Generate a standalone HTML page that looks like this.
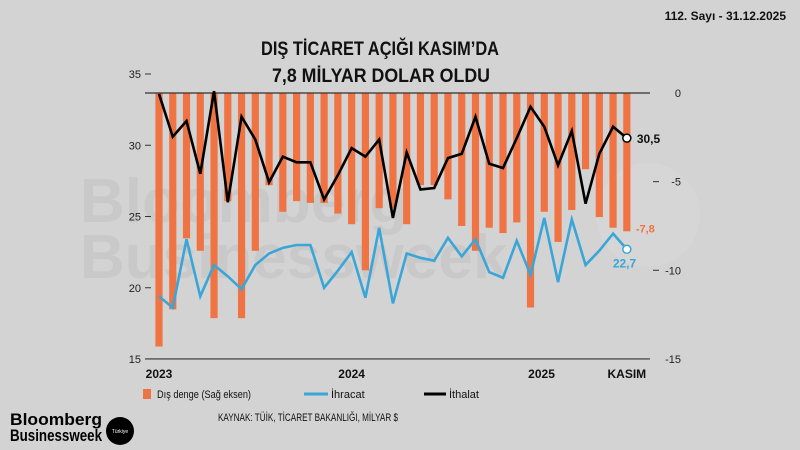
<!DOCTYPE html>
<html><head><meta charset="utf-8"><style>
body{margin:0;background:#d3d3d3;}
#wrap{position:relative;width:800px;height:450px;background:#d3d3d3;overflow:hidden;font-family:"Liberation Sans",sans-serif;}
svg text{font-family:"Liberation Sans",sans-serif;}
</style></head><body>
<div id="wrap">
<svg id="chart" width="800" height="450">
 <g opacity="0.045" fill="#000" font-weight="bold">
  <text x="80" y="222" font-size="62">Bloomberg</text>
  <text x="80" y="278" font-size="62">Businessweek</text>
 </g>
 <circle cx="648" cy="215" r="52" fill="#fff" opacity="0.08"/>
 <text x="786" y="20" font-size="12" font-weight="bold" text-anchor="end" fill="#111">112. Sayı - 31.12.2025</text>
 <text x="380" y="55" font-size="19" font-weight="bold" text-anchor="middle" fill="#111" textLength="238" lengthAdjust="spacingAndGlyphs">DIŞ TİCARET AÇIĞI KASIM’DA</text>
 <text x="381" y="82" font-size="19" font-weight="bold" text-anchor="middle" fill="#111" textLength="218" lengthAdjust="spacingAndGlyphs">7,8 MİLYAR DOLAR OLDU</text>
 <g id="plot"></g>
 <g font-size="11" fill="#111">
  <rect x="143" y="389" width="8" height="10" fill="#f07443"/>
  <text x="157" y="398" textLength="94" lengthAdjust="spacingAndGlyphs">Dış denge (Sağ eksen)</text>
  <line x1="304" y1="394" x2="328" y2="394" stroke="#3aa6d8" stroke-width="3"/>
  <text x="331" y="398">İhracat</text>
  <line x1="424" y1="394" x2="446" y2="394" stroke="#000" stroke-width="3"/>
  <text x="449" y="398">İthalat</text>
 </g>
 <text x="218" y="421" font-size="11" fill="#111" textLength="180" lengthAdjust="spacingAndGlyphs">KAYNAK: TÜİK, TİCARET BAKANLIĞI, MİLYAR $</text>
 <text x="10" y="425" font-size="17" font-weight="bold" fill="#000" textLength="92" lengthAdjust="spacingAndGlyphs">Bloomberg</text>
 <text x="10" y="441" font-size="17" font-weight="bold" fill="#000" textLength="92" lengthAdjust="spacingAndGlyphs">Businessweek</text>
 <circle cx="120" cy="431" r="14" fill="#000"/>
 <text x="120" y="433" font-size="5" fill="#fff" text-anchor="middle">Türkiye</text>
</svg>
</div>
<script>
const months = ["2023-01","2023-02","2023-03","2023-04","2023-05","2023-06","2023-07","2023-08","2023-09","2023-10","2023-11","2023-12","2024-01","2024-02","2024-03","2024-04","2024-05","2024-06","2024-07","2024-08","2024-09","2024-10","2024-11","2024-12","2025-01","2025-02","2025-03","2025-04","2025-05","2025-06","2025-07","2025-08","2025-09","2025-10","2025-11"];
const balance = [-14.3,-12.2,-8.2,-8.9,-12.7,-6.1,-12.7,-8.9,-5.2,-6.7,-6.1,-6.2,-6.2,-6.8,-7.4,-10.0,-6.5,-6.5,-7.4,-5.2,-5.2,-6.0,-7.5,-8.9,-7.6,-7.9,-7.3,-12.1,-6.7,-8.4,-6.6,-4.3,-7.0,-7.6,-7.8];
const imports = [33.6,30.6,31.7,28.0,33.8,26.0,32.0,30.4,27.4,29.2,28.8,28.8,26.2,27.9,29.8,29.2,30.4,24.9,29.5,26.9,27.0,29.1,29.4,32.0,28.7,28.4,30.5,32.7,31.3,28.6,31.0,25.9,29.4,31.3,30.5];
const exportsV = [19.4,18.6,23.4,19.4,21.6,20.8,19.9,21.6,22.4,22.8,23.0,23.0,20.0,21.2,22.5,19.3,24.2,18.9,22.4,22.1,21.9,23.5,22.2,23.4,21.1,20.7,23.3,20.9,24.9,20.4,24.8,21.6,22.6,23.8,22.7];
const leftTicks = [35,30,25,20,15];
const rightTicks = [0,-5,-10,-15];
const xLabels = [["2023",0],["2024",14],["2025",27.8],["KASIM",34]];

const NS="http://www.w3.org/2000/svg";
const plot=document.getElementById('plot');
const xS=i=>159+i*13.76;
const yL=v=>74+(35-v)*14.25;
const yR=v=>93+(-v)*17.73;
function mk(t,a){const e=document.createElementNS(NS,t);for(const k in a)e.setAttribute(k,a[k]);plot.appendChild(e);return e;}

leftTicks.forEach(v=>{
 const t=mk('text',{x:141,y:yL(v)+4,'font-size':11,'text-anchor':'end',fill:'#222'});t.textContent=v;
 
 
 const l=mk('line',{x1:145,x2:151,y1:yL(v),y2:yL(v),stroke:'#333','stroke-width':1});
 
 
});
rightTicks.forEach(v=>{
 const t=mk('text',{x:681,y:yR(v)+4,'font-size':11,'text-anchor':'end',fill:'#222'});t.textContent=v;
 
 
 if(v!==0&&v!==-15){const l=mk('line',{x1:653,x2:659,y1:yR(v),y2:yR(v),stroke:'#333','stroke-width':1});
 
 }
});
balance.forEach((v,i)=>{
 const r=mk('rect',{x:xS(i)-3.6,y:yR(0),width:7.2,height:yR(v)-yR(0),fill:'#f07443'});
 
 
});
const z=mk('line',{x1:145,x2:650,y1:yR(0),y2:yR(0),stroke:'#333','stroke-width':1.2});


const b=mk('line',{x1:145,x2:650,y1:yR(-15),y2:yR(-15),stroke:'#333','stroke-width':1.2});


xLabels.forEach(([s,i])=>{
 const t=mk('text',{x:xS(i),y:378,'font-size':12,'font-weight':'bold','text-anchor':'middle',fill:'#111'});t.textContent=s;
 
 
});
const pe=mk('polyline',{points:exportsV.map((v,i)=>xS(i)+','+yL(v)).join(' '),fill:'none',stroke:'#3aa6d8','stroke-width':2.6,'stroke-linejoin':'miter'});


const pi=mk('polyline',{points:imports.map((v,i)=>xS(i)+','+yL(v)).join(' '),fill:'none',stroke:'#000','stroke-width':2.6,'stroke-linejoin':'miter'});


const n=months.length-1;
const ci=mk('circle',{cx:xS(n),cy:yL(imports[n]),r:4,fill:'#fff',stroke:'#000','stroke-width':1.5});


const ce=mk('circle',{cx:xS(n),cy:yL(exportsV[n]),r:4,fill:'#fff',stroke:'#3aa6d8','stroke-width':1.5});


const fmt=v=>String(v).replace('.',',');
const li=mk('text',{x:xS(n)+10,y:yL(imports[n])+5,'font-size':12,'font-weight':'bold',fill:'#111'});li.textContent=fmt(imports[n]);


const le=mk('text',{x:xS(n)-14,y:yL(exportsV[n])+18,'font-size':12,'font-weight':'bold',fill:'#3aa6d8'});le.textContent=fmt(exportsV[n]);


const lb=mk('text',{x:xS(n)+9,y:yR(balance[n])+1,'font-size':11,'font-weight':'bold',fill:'#f07443'});lb.textContent=fmt(balance[n]);


</script>
</body></html>
